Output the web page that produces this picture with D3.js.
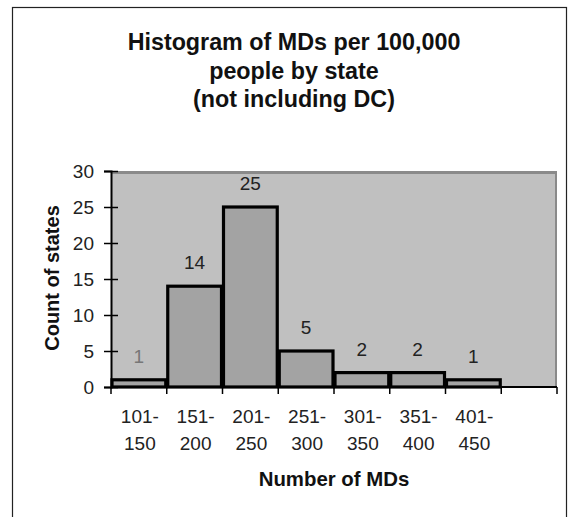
<!DOCTYPE html>
<html><head><meta charset="utf-8">
<script src="https://cdn.jsdelivr.net/npm/d3@7"></script>
<style>body{margin:0;background:#fff}svg{display:block}</style>
</head><body>
<svg id="c" width="572" height="517"></svg>
<script>
const binsTop = ["101-","151-","201-","251-","301-","351-","401-",""];
const binsBottom = ["150","200","250","300","350","400","450",""];
const counts = [1,14,25,5,2,2,1];
const yTicks = [0,5,10,15,20,25,30];
const titleLines = ["Histogram of MDs per 100,000","people by state","(not including DC)"];

const svg = d3.select("#c");
const font = "Arial, 'Liberation Sans', sans-serif";
const L=111, R=557, T=171, B=387;

// outer frame
svg.append("rect").attr("x",12.5).attr("y",7.5).attr("width",554).attr("height",520)
  .attr("fill","#fff").attr("stroke","#222").attr("stroke-width",1.2);

const cats = binsTop.map((d,i)=>i);
const x = d3.scaleBand().domain(cats).range([L,R]).padding(0);
const y = d3.scaleLinear().domain([0,30]).range([B,T]);

// plot area
svg.append("rect").attr("x",L).attr("y",T).attr("width",R-L).attr("height",B-T).attr("fill","#c0c0c0");
svg.append("line").attr("x1",L).attr("x2",R).attr("y1",T+1.5).attr("y2",T+1.5).attr("stroke","#8a8a8a").attr("stroke-width",3);
svg.append("line").attr("x1",R-1).attr("x2",R-1).attr("y1",T).attr("y2",B).attr("stroke","#8a8a8a").attr("stroke-width",2);

// bars
svg.selectAll("rect.bar").data(counts).enter().append("rect").attr("class","bar")
  .attr("x",(d,i)=>x(i)+1).attr("y",d=>y(d))
  .attr("width",x.bandwidth()-2).attr("height",d=>B-y(d))
  .attr("fill","#a3a3a3").attr("stroke","#000").attr("stroke-width",3.2);

// value labels
svg.selectAll("text.val").data(counts).enter().append("text").attr("class","val")
  .attr("x",(d,i)=>x(i)+x.bandwidth()/2).attr("y",d=>y(d)-17)
  .attr("text-anchor","middle").attr("font-family",font).attr("font-size",19)
  .attr("fill",(d,i)=>i===0?"#777":"#222")
  .text(d=>d);

// y axis
const yAxis = svg.append("g").attr("transform",`translate(${L},0)`)
  .call(d3.axisLeft(y).tickValues(yTicks).tickSize(7).tickPadding(10));
yAxis.select(".domain").attr("stroke","#000").attr("stroke-width",2);
yAxis.selectAll(".tick line").attr("x2",7).attr("x1",-7).attr("stroke","#000").attr("stroke-width",1.5);
yAxis.selectAll(".tick text").attr("font-family",font).attr("font-size",19).attr("fill","#222");

// x axis
const xAxis = svg.append("g").attr("transform",`translate(0,${B})`);
xAxis.append("line").attr("x1",L).attr("x2",R).attr("stroke","#000").attr("stroke-width",2);
const bounds = cats.map(i=>x(i)).concat([R]);
xAxis.selectAll("line.t").data(bounds).enter().append("line").attr("class","t")
  .attr("x1",d=>d).attr("x2",d=>d).attr("y1",0).attr("y2",7).attr("stroke","#000").attr("stroke-width",1.5);
const xl = svg.append("g");
xl.selectAll("text.a").data(binsTop).enter().append("text")
  .attr("x",(d,i)=>x(i)+x.bandwidth()/2+1).attr("y",423).attr("text-anchor","middle")
  .attr("font-family",font).attr("font-size",19).attr("fill","#222").text(d=>d);
xl.selectAll("text.b").data(binsBottom).enter().append("text")
  .attr("x",(d,i)=>x(i)+x.bandwidth()/2+1).attr("y",450).attr("text-anchor","middle")
  .attr("font-family",font).attr("font-size",19).attr("fill","#222").text(d=>d);

// axis titles
svg.append("text").attr("x",(L+R)/2).attr("y",486).attr("text-anchor","middle")
  .attr("font-family",font).attr("font-size",20.4).attr("font-weight","bold").attr("fill","#111").text("Number of MDs");
svg.append("text").attr("transform",`translate(59,278) rotate(-90)`).attr("text-anchor","middle")
  .attr("font-family",font).attr("font-size",20).attr("font-weight","bold").attr("fill","#111").text("Count of states");

// title
svg.selectAll("text.title").data(titleLines).enter().append("text")
  .attr("x",294).attr("y",(d,i)=>50+i*28.5).attr("text-anchor","middle")
  .attr("font-family",font).attr("font-size",23.3).attr("font-weight","bold").attr("fill","#111").text(d=>d);
</script>
</body></html>
